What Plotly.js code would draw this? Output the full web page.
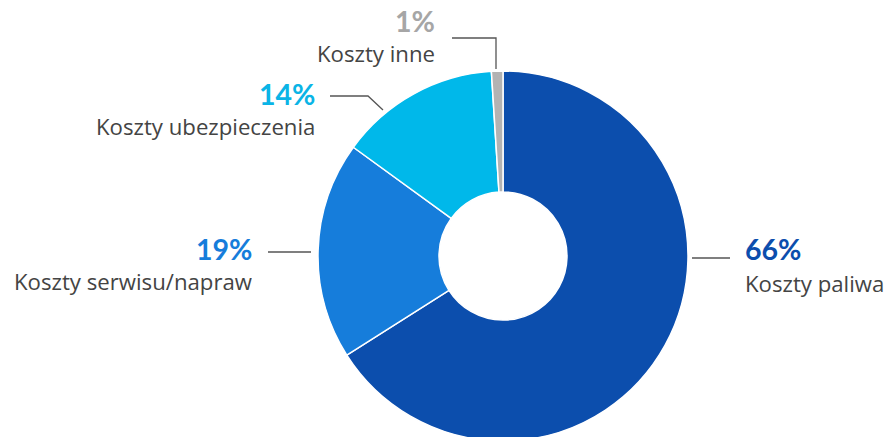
<!DOCTYPE html>
<html><head><meta charset="utf-8">
<script src="https://cdn.plot.ly/plotly-3.0.1.min.js"></script>
<style>html,body{margin:0;padding:0;overflow:hidden;background:#fff}#c{width:889px;height:445px}</style>
</head><body><div id="c"></div>
<script>
const categories = ["Koszty paliwa", "Koszty serwisu/napraw", "Koszty ubezpieczenia", "Koszty inne"];
const values = [66, 19, 14, 1];
const sliceColors = ["#0c4ead", "#167ddb", "#00b8ea", "#b3b3b3"];
const labelColors = ["#0c4ead", "#167ddb", "#0ab4e6", "#a6a6a6"];

const W = 889, H = 445;
const px = x => x / W, py = y => 1 - y / H;
const cx = 503, cy = 256, R = 185;

// label placement (pixels): [anchorX, pctY, nameY, xanchor]
const place = [
  [743, 249, 283, 'left'],
  [254, 249, 281, 'right'],
  [317, 94, 126, 'right'],
  [437, 21, 53, 'right']
];
// leader lines (pixel paths)
const leaders = [
  [[692, 258], [730, 258]],
  [[268, 252], [311, 252]],
  [[330, 96], [368, 96], [383, 110]],
  [[452, 38], [496, 38], [496, 69]]
];

const annotations = [];
categories.forEach((c, i) => {
  const p = place[i];
  annotations.push({xref:'paper', yref:'paper', x:px(p[0]), y:py(p[1]), xanchor:p[3], yanchor:'middle',
    text:'<b>' + values[i] + '%</b>', showarrow:false, height:24, valign:'middle',
    font:{family:'Lato, sans-serif', size:28.5, color:labelColors[i]}});
  annotations.push({xref:'paper', yref:'paper', x:px(p[0]), y:py(p[2]), xanchor:p[3], yanchor:'middle',
    text:c, showarrow:false, height:30, valign:'middle',
    font:{family:'Open Sans, sans-serif', size:22.2, color:'#444444'}});
});
const shapes = leaders.map(pts => ({
  type:'path', xref:'paper', yref:'paper',
  path: pts.map((q, k) => (k ? 'L' : 'M') + px(q[0]) + ',' + py(q[1])).join(' '),
  line:{color:'#555555', width:1.3}
}));

Plotly.newPlot('c', [{
  type:'pie', labels:categories, values:values, sort:false, direction:'clockwise', rotation:0,
  hole:0.346, textinfo:'none', hoverinfo:'none',
  marker:{colors:sliceColors, line:{color:'#ffffff', width:1.5}},
  domain:{x:[px(cx - R), px(cx + R)], y:[py(cy + R), py(cy - R)]}
}], {
  width:W, height:H, margin:{l:0,r:0,t:0,b:0}, showlegend:false,
  paper_bgcolor:'#ffffff', annotations:annotations, shapes:shapes
}, {staticPlot:true});
</script></body></html>
